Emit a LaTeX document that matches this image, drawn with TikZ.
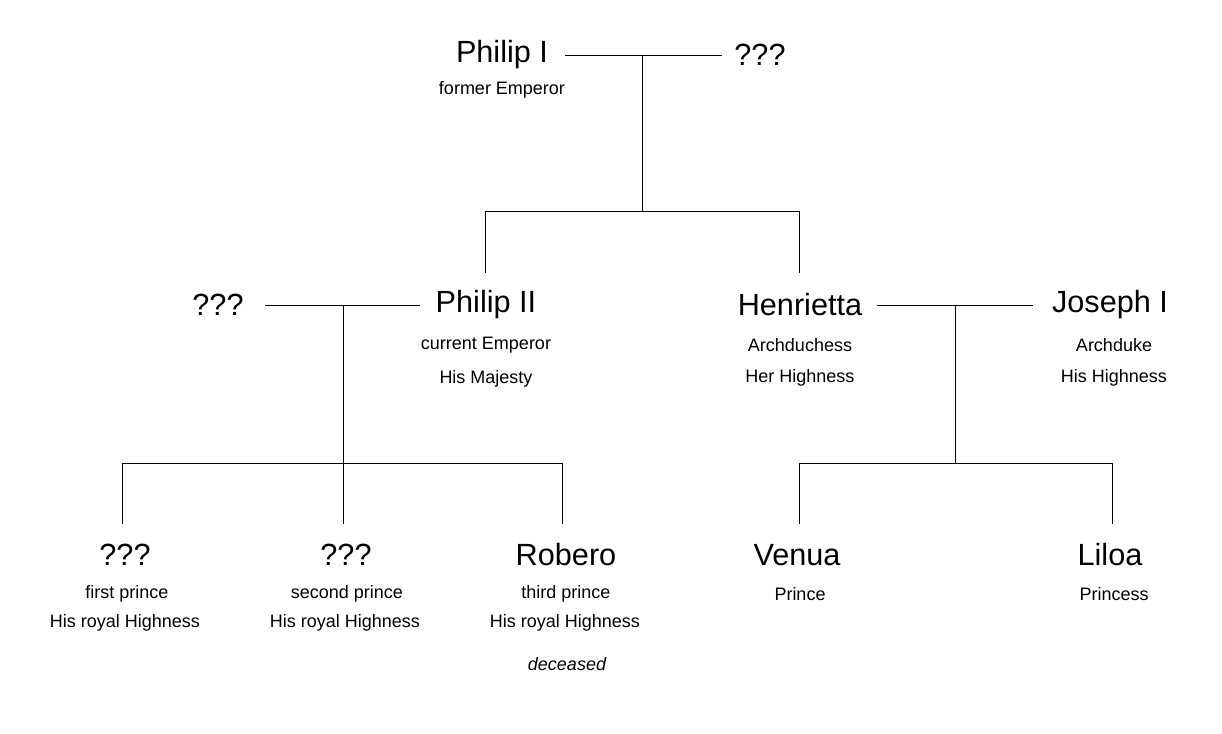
\documentclass[tikz,border=0pt]{standalone}
\usepackage{fontspec}
\setmainfont{Liberation Sans}
\usetikzlibrary{positioning}
\begin{document}
\begin{tikzpicture}[x=0.025cm,y=-0.025cm]
		\tikzstyle{Name}  = [font=\fontsize{21.8}{26}\selectfont, inner sep=0pt]
		\tikzstyle{Title} = [font=\fontsize{12.8}{15}\selectfont, inner sep=0pt]
		\tikzstyle{Link}  = [black, line width=0.6pt]
		\useasboundingbox (0,0) rectangle (1222,734);

		% generation 1
		\node (p1) at (502,55) [Name]{Philip I};
		\node (p1t) at (502,90) [Title]{former Emperor};
		\node (w1) at (760,55) [Name]{???};
		% generation 2
		\node (w2) at (218,305) [Name]{???};
		\node (p2) at (486,305) [Name]{Philip II};
		\node (p2t) at (486,345) [Title]{current Emperor};
		\node (p2h) at (486,379) [Title]{His Majesty};
		\node (he) at (800,305) [Name]{Henrietta};
		\node (het) at (800,345) [Title]{Archduchess};
		\node (heh) at (800,378) [Title]{Her Highness};
		\node (jo) at (1110,305) [Name]{Joseph I};
		\node (jot) at (1114,345) [Title]{Archduke};
		\node (joh) at (1114,378) [Title]{His Highness};
		% generation 3
		\node (c1) at (125,555) [Name]{???};
		\node (c1t) at (127,594) [Title]{first prince};
		\node (c1h) at (125,623) [Title]{His royal Highness};
		\node (c2) at (346,555) [Name]{???};
		\node (c2t) at (347,594) [Title]{second prince};
		\node (c2h) at (345,623) [Title]{His royal Highness};
		\node (c3) at (566,555) [Name]{Robero};
		\node (c3t) at (566,594) [Title]{third prince};
		\node (c3h) at (565,623) [Title]{His royal Highness};
		\node (c3d) at (567,664) [Title]{\itshape deceased};
		\node (c4) at (797,555) [Name]{Venua};
		\node (c4t) at (800,594) [Title]{Prince};
		\node (c5) at (1110,555) [Name]{Liloa};
		\node (c5t) at (1114,594) [Title]{Princess};

		% connector points
		\coordinate (m1a) at (565,55);  \coordinate (m1b) at (722,55);
		\coordinate (m1) at (642,55);   \coordinate (k1) at (642,211);
		\coordinate (k1l) at (485,211); \coordinate (k1r) at (799,211);
		\coordinate (t2) at (485,273);  \coordinate (t4) at (799,273);
		\coordinate (m2a) at (265,305); \coordinate (m2b) at (420,305);
		\coordinate (m2) at (343,305);  \coordinate (k2) at (343,463);
		\coordinate (k2l) at (122,463); \coordinate (k2r) at (562,463);
		\coordinate (m3a) at (877,305); \coordinate (m3b) at (1033,305);
		\coordinate (m3) at (955,305);  \coordinate (k3) at (955,463);
		\coordinate (k3l) at (799,463); \coordinate (k3r) at (1112,463);

		\draw [Link] (m1a) -- (m1b);
		\draw [Link] (m1) -- (k1);
		\draw [Link] (t2) -- (k1l) -- (k1r) -- (t4);
		\draw [Link] (m2a) -- (m2b);
		\draw [Link] (m2) -- (k2);
		\draw [Link] (k2l) -- (k2r);
		\foreach \x in {122,343,562} \draw [Link] (\x,463) -- (\x,524);
		\draw [Link] (m3a) -- (m3b);
		\draw [Link] (m3) -- (k3);
		\draw [Link] (k3l) -- (k3r);
		\foreach \x in {799,1112} \draw [Link] (\x,463) -- (\x,524);
	\end{tikzpicture}
\end{document}
